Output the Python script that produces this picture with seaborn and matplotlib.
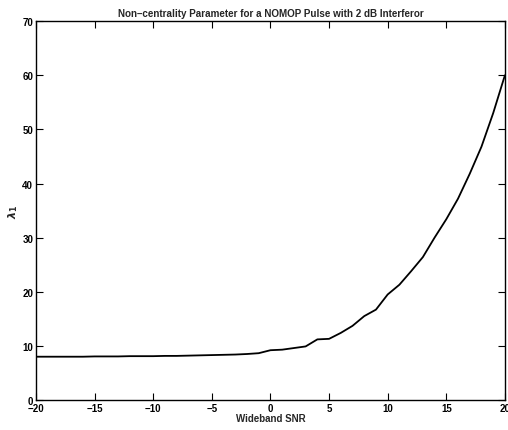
import matplotlib
matplotlib.use("Agg")
import matplotlib.pyplot as plt
import seaborn as sns
import pandas as pd

snr = list(range(-20, 21))
lam = [8.0, 8.0, 8.0, 8.0, 8.0, 8.05, 8.05, 8.05, 8.1, 8.1, 8.1,
       8.15, 8.15, 8.2, 8.25, 8.3, 8.35, 8.4, 8.5, 8.65, 9.2,
       9.3, 9.6, 9.9, 11.2, 11.3, 12.4, 13.7, 15.5, 16.7, 19.5,
       21.3, 23.8, 26.4, 30.0, 33.4, 37.2, 41.8, 46.8, 53.0, 60.0]
xticks = [-20, -15, -10, -5, 0, 5, 10, 15, 20]
yticks = [0, 10, 20, 30, 40, 50, 60, 70]

sns.set_style("ticks")
plt.rcParams['font.family'] = ['Liberation Sans', 'DejaVu Sans']
plt.rcParams['font.weight'] = 'bold'

df = pd.DataFrame({"snr": snr, "lam": lam})
fig = plt.figure(figsize=(5.08, 4.31), dpi=100)
ax = fig.add_axes([0.0709, 0.0696, 0.923, 0.879])
sns.lineplot(data=df, x="snr", y="lam", ax=ax, color="black", linewidth=1.3)
ax.set_xlim(-20, 20)
ax.set_ylim(0, 70)
ax.set_xticks(xticks)
ax.set_yticks(yticks)
ax.tick_params(direction="in", top=True, right=True, length=5, width=0.8,
               labelsize=7, pad=2, colors="black")
for lab in ax.get_xticklabels() + ax.get_yticklabels():
    lab.set_fontweight("bold")
for s in ax.spines.values():
    s.set_visible(True)
    s.set_linewidth(1.0)
    s.set_color("black")
ax.set_xlabel("Wideband SNR", fontsize=7, fontweight="bold", labelpad=0)
ax.set_ylabel(r"$\lambda_1$", fontsize=8, labelpad=2)
ax.set_title("Non\u2013centrality Parameter for a NOMOP Pulse with 2 dB Interferor",
             fontsize=7.1, fontweight="bold", pad=4)
fig.savefig("out.png", dpi=100)
